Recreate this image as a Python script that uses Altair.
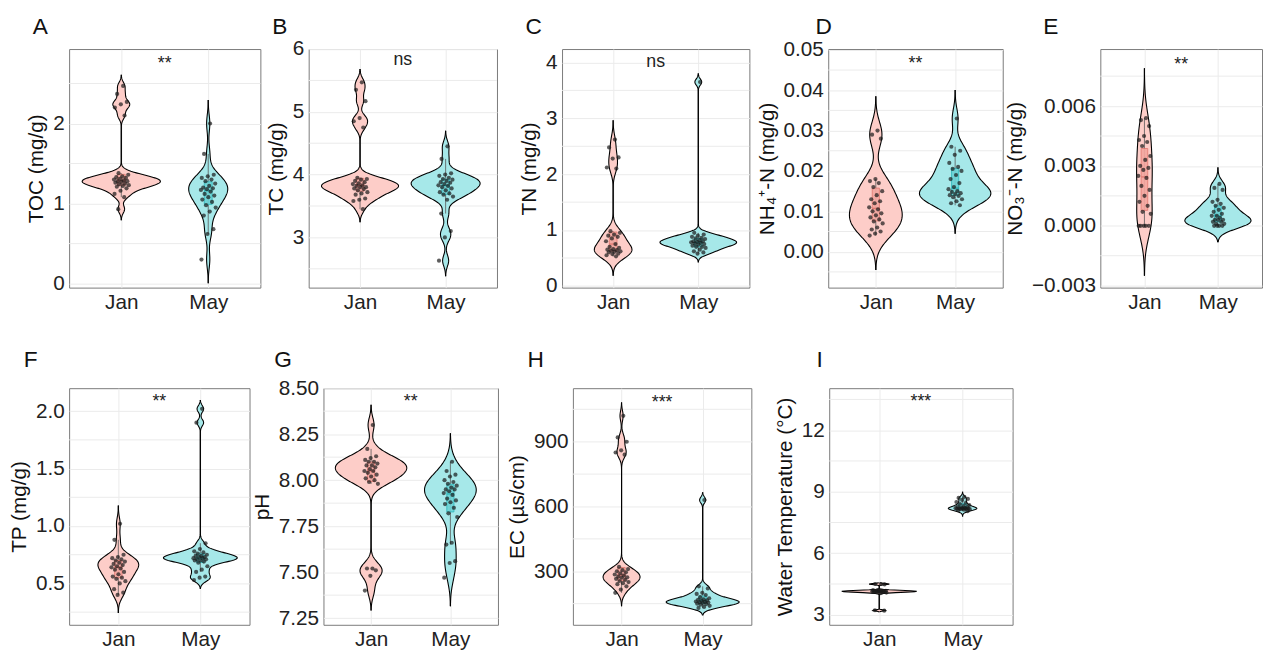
import altair as alt
import pandas as pd

FONT = "Liberation Sans"
MONTHS = ["Jan", "May"]

# ---------------- data ----------------
toc_jan = [2.47, 2.37, 2.27, 2.24, 2.20, 2.10, 1.38, 1.36, 1.34, 1.33, 1.32, 1.31, 1.30, 1.29,
           1.28, 1.28, 1.27, 1.26, 1.25, 1.24, 1.23, 1.22, 1.21, 1.19, 1.16, 1.12, 1.08, 0.93]
toc_may = [2.00, 1.62, 1.36, 1.34, 1.32, 1.30, 1.28, 1.25, 1.22, 1.20, 1.19, 1.18, 1.17, 1.15,
           1.12, 1.10, 1.08, 1.05, 1.02, 0.98, 0.95, 0.90, 0.85, 0.68, 0.62, 0.30]

tc_jan = [5.47, 5.35, 5.17, 4.90, 4.85, 4.75, 3.95, 3.93, 3.92, 3.90, 3.88, 3.86, 3.85, 3.83,
          3.82, 3.80, 3.80, 3.78, 3.77, 3.75, 3.72, 3.70, 3.68, 3.62, 3.60, 3.58, 3.45]
tc_may = [4.45, 4.25, 4.02, 4.00, 3.98, 3.95, 3.93, 3.92, 3.90, 3.88, 3.87, 3.85, 3.83, 3.82,
          3.80, 3.78, 3.75, 3.72, 3.70, 3.68, 3.65, 3.60, 3.38, 3.10, 3.00, 2.63]

tn_jan = [2.62, 2.48, 2.30, 2.28, 2.12, 2.10, 0.98, 0.95, 0.92, 0.90, 0.88, 0.85, 0.80, 0.75,
          0.70, 0.68, 0.66, 0.65, 0.64, 0.63, 0.62, 0.61, 0.60, 0.58, 0.57, 0.55, 0.53]
tn_may = [3.65, 0.95, 0.92, 0.90, 0.88, 0.86, 0.85, 0.84, 0.82, 0.80, 0.80, 0.79, 0.78, 0.77,
          0.76, 0.75, 0.74, 0.72, 0.70, 0.70, 0.68, 0.65, 0.62, 0.60, 0.58]

nh4_jan = [0.030, 0.029, 0.028, 0.018, 0.0175, 0.017, 0.016, 0.015, 0.014, 0.013, 0.0125, 0.012,
           0.011, 0.0105, 0.010, 0.0095, 0.009, 0.0085, 0.008, 0.0075, 0.007, 0.006, 0.0055,
           0.005, 0.0045, 0.004]
nh4_may = [0.033, 0.026, 0.025, 0.024, 0.022, 0.021, 0.0205, 0.020, 0.019, 0.018, 0.017, 0.016,
           0.0155, 0.015, 0.0148, 0.0145, 0.0143, 0.014, 0.0138, 0.0135, 0.013, 0.0125, 0.012,
           0.0115]

no3_jan = [0.0054, 0.0053, 0.0050, 0.0045, 0.0043, 0.0042, 0.0040, 0.0035, 0.0033, 0.0030,
           0.0029, 0.0028, 0.0025, 0.0024, 0.0020, 0.0018, 0.0015, 0.0012, 0.0010, 0.0007,
           0.0006, 0.0, 0.0, 0.0, 0.0, 0.0]
no3_may = [0.0021, 0.0019, 0.0018, 0.0013, 0.0012, 0.0011, 0.0010, 0.0009, 0.0008, 0.0007,
           0.0006, 0.0005, 0.0005, 0.0004, 0.0003, 0.0003, 0.0003, 0.0002, 0.0002, 0.0001,
           0.0001, 0.0, 0.0, 0.0, 0.0]

tp_jan = [1.02, 0.88, 0.75, 0.73, 0.72, 0.71, 0.70, 0.69, 0.68, 0.67, 0.66, 0.65, 0.64, 0.63,
          0.62, 0.60, 0.58, 0.56, 0.55, 0.54, 0.52, 0.50, 0.45, 0.42, 0.40]
tp_may = [2.02, 1.90, 0.85, 0.80, 0.78, 0.77, 0.76, 0.75, 0.74, 0.74, 0.73, 0.73, 0.72, 0.72,
          0.71, 0.71, 0.70, 0.70, 0.69, 0.68, 0.65, 0.62, 0.60, 0.56, 0.55, 0.53]

ph_jan = [8.30, 8.17, 8.13, 8.12, 8.11, 8.10, 8.10, 8.09, 8.08, 8.08, 8.07, 8.06, 8.05, 8.05,
          8.04, 8.03, 8.02, 8.01, 8.00, 7.99, 7.98, 7.52, 7.52, 7.51, 7.48, 7.40]
ph_may = [8.10, 8.05, 8.03, 8.02, 8.00, 7.99, 7.98, 7.97, 7.96, 7.95, 7.95, 7.94, 7.93, 7.92,
          7.90, 7.89, 7.88, 7.87, 7.85, 7.82, 7.80, 7.66, 7.65, 7.56, 7.55, 7.47]

ec_jan = [1020, 920, 900, 860, 850, 840, 320, 310, 305, 300, 295, 290, 285, 280, 275, 272,
          270, 265, 260, 255, 250, 245, 240, 230, 215, 200]
ec_may = [630, 230, 220, 200, 195, 190, 180, 175, 170, 168, 165, 163, 160, 158, 156, 155, 153,
          150, 148, 145, 140, 135, 130]

wt_jan = [4.50, 4.50, 4.48, 4.20, 4.20, 4.18, 4.18, 4.17, 4.16, 4.15, 4.15, 4.15, 4.14, 4.14,
          4.13, 4.12, 4.12, 4.11, 4.10, 4.10, 4.08, 4.05, 3.22, 3.20]
wt_may = [8.75, 8.70, 8.65, 8.60, 8.50, 8.45, 8.40, 8.35, 8.30, 8.28, 8.25, 8.22, 8.20, 8.20,
          8.19, 8.18, 8.18, 8.17, 8.16, 8.15, 8.15, 8.12, 8.10, 8.05]

panel_keys = ["A", "B", "C", "D", "E", "F", "G", "H", "I"]
y_titles = ["TOC (mg/g)", "TC (mg/g)", "TN (mg/g)", "NH\u2084\u207a-N (mg/g)", "NO\u2083\u207b-N (mg/g)",
            "TP (mg/g)", "pH", "EC (\u00b5s/cm)", "Water Temperature (\u00b0C)"]
jan_sets = [toc_jan, tc_jan, tn_jan, nh4_jan, no3_jan, tp_jan, ph_jan, ec_jan, wt_jan]
may_sets = [toc_may, tc_may, tn_may, nh4_may, no3_may, tp_may, ph_may, ec_may, wt_may]
sig_labels = ["**", "ns", "ns", "**", "**", "**", "**", "***", "***"]
sig_values = [2.76, 5.80, 3.97, 0.0467, 0.0081, 2.09, 8.43, 1084, 13.4]
y_domains = [[-0.05, 2.93], [2.2, 6.0], [-0.03, 4.24], [-0.0089, 0.0502], [-0.0031, 0.00886],
             [0.14, 2.20], [7.214, 8.5], [52, 1148], [2.51, 14.05]]
y_major = [[0, 1, 2], [3, 4, 5, 6], [0, 1, 2, 3, 4], [0.0, 0.01, 0.02, 0.03, 0.04, 0.05],
           [-0.003, 0.0, 0.003, 0.006], [0.5, 1.0, 1.5, 2.0],
           [7.25, 7.5, 7.75, 8.0, 8.25, 8.5], [300, 600, 900], [3, 6, 9, 12]]
y_minor = [[0.5, 1.5, 2.5], [2.5, 3.5, 4.5, 5.5], [0.5, 1.5, 2.5, 3.5],
           [-0.005, 0.005, 0.015, 0.025, 0.035, 0.045], [-0.0015, 0.0015, 0.0045, 0.0075],
           [0.25, 0.75, 1.25, 1.75], [7.375, 7.625, 7.875, 8.125, 8.375],
           [150, 450, 750, 1050], [4.5, 7.5, 10.5, 13.5]]
y_formats = ["d", "d", "d", ".2f", ".3f", ".1f", ".2f", "d", "d"]

# ---------------- styling / layout ----------------
VIOLIN_FILL = {"Jan": "#FDCDC8", "May": "#A6E8E9"}
BOX_FILL = {"Jan": "#F4A7A0", "May": "#6CD2D5"}
BOX_EDGE = {"Jan": "#E0766E", "May": "#2AB5B9"}
GRID = "#EBEBEB"
# width, height, gap to the left, letter dx, letter dy, spacer top, spacer bottom
LAYOUT = [
    (194, 242, 55, -37, -33, -36, 272),
    (191, 242, 47, -37, -33, -36, 272),
    (190, 242, 64, -37, -33, -36, 272),
    (177, 242, 78, -13, -33, -36, 272),
    (164, 242, 94, -58, -33, -36, 272),
    (183, 240, 54, -46, -39, -70, 260),
    (177, 240, 73, -50, -39, -70, 260),
    (181, 240, 74, -46, -39, -70, 260),
    (186, 240, 77, -13, -39, -70, 260),
]


def cond(mapping):
    return alt.condition("datum.month === 'Jan'", alt.value(mapping["Jan"]), alt.value(mapping["May"]))


def make_panel(i):
    jan, may = jan_sets[i], may_sets[i]
    w, h, gap, ldx, ldy, sp_top, sp_bot = LAYOUT[i]
    dom = y_domains[i]
    df = pd.DataFrame({"month": ["Jan"] * len(jan) + ["May"] * len(may), "value": jan + may})
    xs = alt.Scale(domain=[0.4, 2.6], nice=False, zero=False)
    ys = alt.Scale(domain=dom, nice=False, zero=False)
    yaxis = alt.Axis(title=y_titles[i], values=y_major[i], format=y_formats[i], tickCount=20,
                     grid=True, gridColor=GRID, gridWidth=1, ticks=False, domain=False,
                     labelFontSize=21, titleFontSize=21, titleFontWeight="normal",
                     labelColor="#222222", titleColor="#111111", labelPadding=5,
                     titlePadding=6, labelFlush=False, labelOverlap=False)
    xaxis = alt.Axis(title=None, values=[1, 2], labelExpr="datum.value == 1 ? 'Jan' : 'May'",
                     grid=True, gridColor=GRID, ticks=False, domain=False, labelFontSize=21,
                     labelColor="#222222", labelPadding=4, labelFlush=False, tickCount=10)

    minor = alt.Chart(pd.DataFrame({"g": y_minor[i]})).mark_rule(
        color=GRID, strokeWidth=1).encode(y=alt.Y("g:Q", scale=ys, axis=yaxis))

    base = alt.Chart(df).transform_calculate(idx="datum.month === 'Jan' ? 1 : 2")

    dens = (
        base.transform_joinaggregate(q1="q1(value)", q3="q3(value)", sd="stdev(value)",
                                     n="count()", vmin="min(value)", vmax="max(value)",
                                     groupby=["month"])
        .transform_calculate(bw="0.9 * min(datum.sd, (datum.q3 - datum.q1) / 1.34) * pow(datum.n, -0.2)")
        .transform_calculate(lo="datum.vmin - 3 * datum.bw", hi="datum.vmax + 3 * datum.bw")
        .transform_calculate(rep="[0, 1]")
        .transform_flatten(["rep"])
        .transform_density("value", groupby=["month", "idx", "lo", "hi"], extent=dom,
                           steps=500, as_=["v", "density"])
        .transform_filter("datum.v >= datum.lo && datum.v <= datum.hi")
        .transform_joinaggregate(maxd="max(density)")
        .transform_calculate(xl="datum.idx - 0.45 * datum.density / datum.maxd",
                             xr="datum.idx + 0.45 * datum.density / datum.maxd")
    )
    violin = dens.mark_area(orient="horizontal").encode(
        y=alt.Y("v:Q", scale=ys, axis=yaxis),
        x=alt.X("xl:Q", scale=xs, axis=xaxis), x2="xr:Q",
        fill=cond(VIOLIN_FILL), detail="month:N")
    edge_l = dens.mark_line(color="black", strokeWidth=1.1).encode(
        y=alt.Y("v:Q", scale=ys, axis=yaxis), x=alt.X("xl:Q", scale=xs, axis=xaxis),
        detail="month:N", order=alt.Order("v:Q"))
    edge_r = dens.mark_line(color="black", strokeWidth=1.1).encode(
        y=alt.Y("v:Q", scale=ys, axis=yaxis), x=alt.X("xr:Q", scale=xs, axis=xaxis),
        detail="month:N", order=alt.Order("v:Q"))

    stats = (
        base.transform_joinaggregate(q1="q1(value)", q3="q3(value)", med="median(value)",
                                     groupby=["month"])
        .transform_filter("datum.value >= datum.q1 - 1.5 * (datum.q3 - datum.q1) && "
                          "datum.value <= datum.q3 + 1.5 * (datum.q3 - datum.q1)")
        .transform_aggregate(wlo="min(value)", whi="max(value)",
                             groupby=["month", "idx", "q1", "q3", "med"])
        .transform_calculate(bl="datum.idx - 0.045", br="datum.idx + 0.045")
    )
    whisker = stats.mark_rule(color="#555555", strokeWidth=0.8).encode(
        x=alt.X("idx:Q", scale=xs, axis=xaxis), y=alt.Y("wlo:Q", scale=ys, axis=yaxis), y2="whi:Q")
    box = stats.mark_rect(strokeWidth=0.9, opacity=0.9).encode(
        x=alt.X("bl:Q", scale=xs, axis=xaxis), x2="br:Q",
        y=alt.Y("q1:Q", scale=ys, axis=yaxis), y2="q3:Q",
        fill=cond(BOX_FILL), stroke=cond(BOX_EDGE))
    median = stats.mark_rule(strokeWidth=1.2).encode(
        x=alt.X("bl:Q", scale=xs, axis=xaxis), x2="br:Q",
        y=alt.Y("med:Q", scale=ys, axis=yaxis), color=cond(BOX_EDGE))

    points = (
        base.transform_window(rn="row_number()", groupby=["month"])
        .transform_calculate(jx="datum.idx + ((datum.rn * 0.618034) % 1 - 0.5) * 0.18")
        .mark_circle(size=18, color="#1a1a1a", opacity=0.7)
        .encode(x=alt.X("jx:Q", scale=xs, axis=xaxis), y=alt.Y("value:Q", scale=ys, axis=yaxis))
    )

    one = alt.Data(values=[{}])
    sig = alt.Chart(one).mark_text(
        text=sig_labels[i], fontSize=18, font=FONT, baseline="alphabetic", color="#222222",
        dy=6 if "*" in sig_labels[i] else 3
    ).encode(x=alt.XDatum(1.5, type="quantitative", scale=xs, axis=xaxis),
             y=alt.YDatum(sig_values[i], type="quantitative", scale=ys, axis=yaxis))
    letter = alt.Chart(one).mark_text(
        text=panel_keys[i], fontSize=23, font=FONT, align="left", baseline="top", color="#111111"
    ).encode(x=alt.value(ldx), y=alt.value(ldy))
    spacer = alt.Chart(one).mark_rule(opacity=0).encode(
        x=alt.value(-gap), y=alt.value(sp_top), y2=alt.value(sp_bot))

    return alt.layer(minor, violin, edge_l, edge_r, whisker, box, median, points, sig, letter,
                     spacer).properties(width=w, height=h)


row1 = alt.hconcat(*[make_panel(i) for i in range(5)], spacing=0)
row2 = alt.hconcat(*[make_panel(i) for i in range(5, 9)], spacing=0)
chart = (
    alt.vconcat(row1, row2, spacing=0)
    .properties(padding=0, background="white")
    .configure_view(stroke="#7a7a7a", strokeWidth=1)
    .configure_axis(labelFont=FONT, titleFont=FONT)
    .configure_text(font=FONT)
)
chart.save("out.html", embed_options={"renderer": "svg", "actions": False})
